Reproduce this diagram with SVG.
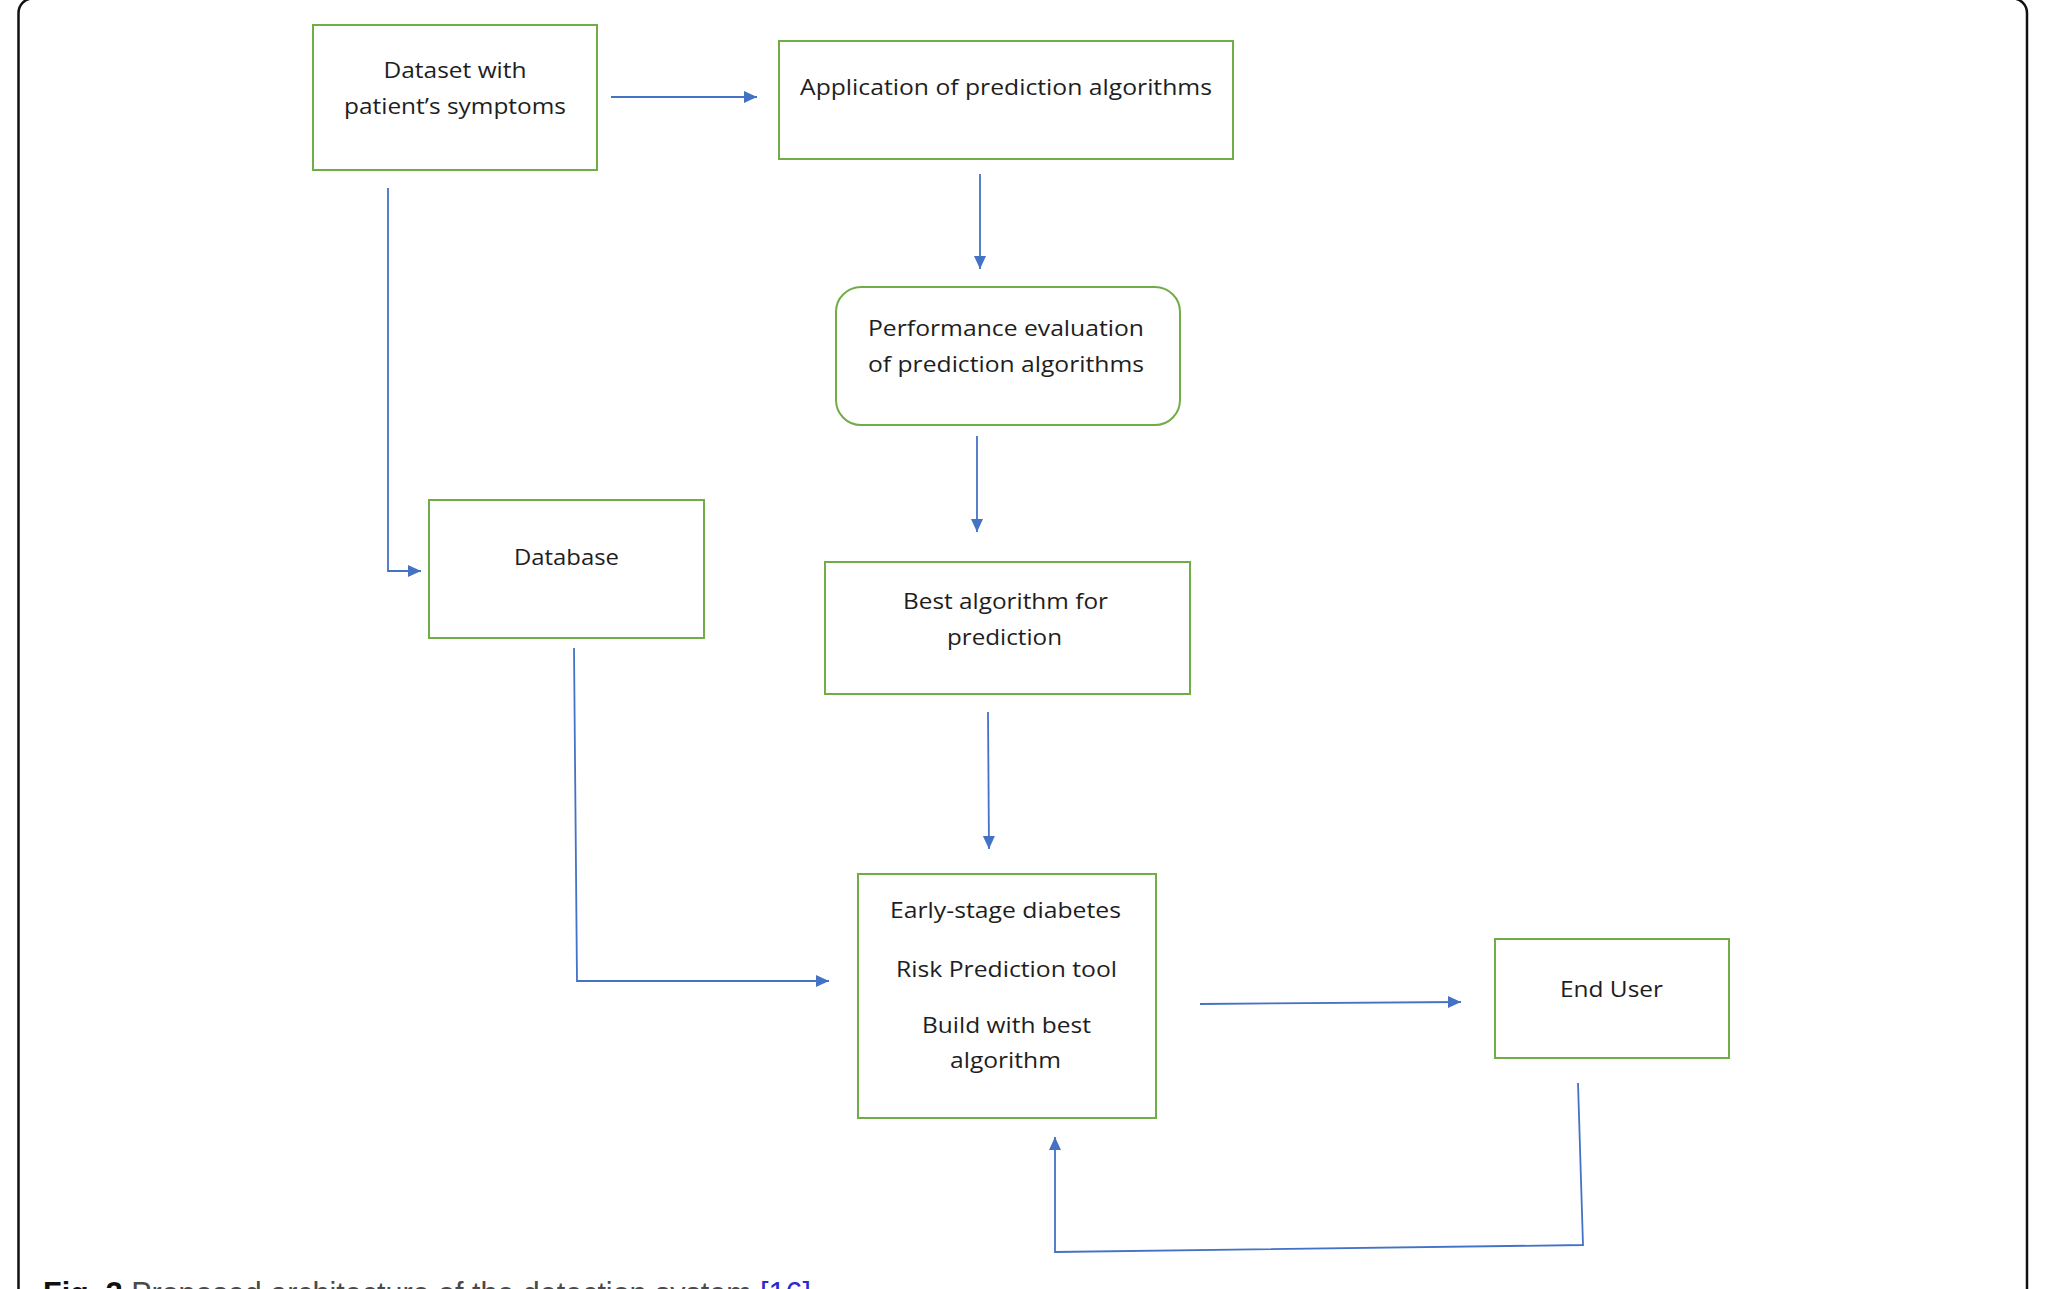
<svg xmlns="http://www.w3.org/2000/svg" width="2057" height="1289" viewBox="0 0 2057 1289">
<style>
.box{fill:#fff;stroke:#70AD47;stroke-width:2}
.lbl{font-family:"Open Sans","Liberation Sans",sans-serif;font-size:21px;fill:#1e1e1e}
.conn{fill:none;stroke:#4472C4;stroke-width:1.8;marker-end:url(#arr)}
.cap{font-family:"Liberation Sans",Arial,sans-serif;font-size:30.5px;fill:#4a4a4a}
</style>
<defs>
<marker id="arr" markerUnits="userSpaceOnUse" markerWidth="14" markerHeight="13" refX="13" refY="6" orient="auto">
<path d="M0,0 L13,6 L0,12 z" fill="#4472C4"/>
</marker>
</defs>
<rect x="0" y="0" width="2057" height="1289" fill="#fff"/>
<rect x="18.5" y="-1.6" width="2008.5" height="1340" rx="14.6" fill="none" stroke="#111" stroke-width="2.5"/>

<g id="connectors">
<path class="conn" d="M611 97 L757 97"/>
<path class="conn" d="M980 174 L980 269"/>
<path class="conn" d="M977 436 L977 532"/>
<path class="conn" d="M988 712 L989 849"/>
<path class="conn" d="M388 188 L388 571 L421 571"/>
<path class="conn" d="M574 648 L577 981 L829 981"/>
<path class="conn" d="M1200 1004 L1461 1002"/>
<path class="conn" d="M1578 1083 L1583 1245 L1055 1252 L1055 1137"/>
</g>

<g id="dataset">
<rect class="box" x="313" y="25" width="284" height="145"/>
<text class="lbl" x="383.5" y="78" textLength="143" lengthAdjust="spacingAndGlyphs">Dataset with</text>
<text class="lbl" x="344" y="114" textLength="222" lengthAdjust="spacingAndGlyphs">patient’s symptoms</text>
</g>

<g id="application">
<rect class="box" x="779" y="41" width="454" height="118"/>
<text class="lbl" x="800" y="95" textLength="412" lengthAdjust="spacingAndGlyphs">Application of prediction algorithms</text>
</g>

<g id="performance">
<rect class="box" x="836" y="287" width="344" height="138" rx="25"/>
<text class="lbl" x="868" y="336" textLength="276" lengthAdjust="spacingAndGlyphs">Performance evaluation</text>
<text class="lbl" x="868" y="372" textLength="276" lengthAdjust="spacingAndGlyphs">of prediction algorithms</text>
</g>

<g id="database">
<rect class="box" x="429" y="500" width="275" height="138"/>
<text class="lbl" x="514" y="565" textLength="105" lengthAdjust="spacingAndGlyphs">Database</text>
</g>

<g id="best">
<rect class="box" x="825" y="562" width="365" height="132"/>
<text class="lbl" x="903" y="609" textLength="205" lengthAdjust="spacingAndGlyphs">Best algorithm for</text>
<text class="lbl" x="947" y="645" textLength="115" lengthAdjust="spacingAndGlyphs">prediction</text>
</g>

<g id="tool">
<rect class="box" x="858" y="874" width="298" height="244"/>
<text class="lbl" x="890" y="918" textLength="231" lengthAdjust="spacingAndGlyphs">Early-stage diabetes</text>
<text class="lbl" x="896" y="977" textLength="221" lengthAdjust="spacingAndGlyphs">Risk Prediction tool</text>
<text class="lbl" x="922" y="1033" textLength="169" lengthAdjust="spacingAndGlyphs">Build with best</text>
<text class="lbl" x="950" y="1068" textLength="111" lengthAdjust="spacingAndGlyphs">algorithm</text>
</g>

<g id="enduser">
<rect class="box" x="1495" y="939" width="234" height="119"/>
<text class="lbl" x="1560" y="997" textLength="103" lengthAdjust="spacingAndGlyphs">End User</text>
</g>

<text class="cap" x="43" y="1304"><tspan font-weight="bold" fill="#111">Fig. 3</tspan> Proposed architecture of the detection system <tspan fill="#2a2ad0">[16]</tspan></text>
</svg>
